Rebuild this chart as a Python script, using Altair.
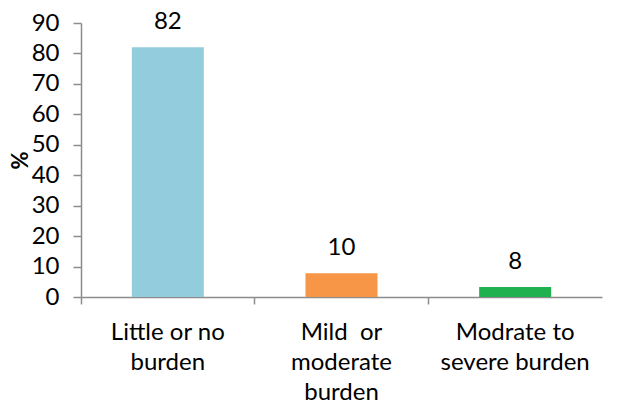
import altair as alt
import pandas as pd

categories = ["Little or no|burden", "Mild  or|moderate|burden", "Modrate to|severe burden"]
values = [82, 7.8, 3.3]
labels = ["82", "10", "8"]
colors = ["#93CDDD", "#F79646", "#1FB04F"]

df = pd.DataFrame({"cat": categories, "val": values, "lab": labels, "col": colors})

FONT = "Lato"

x_enc = alt.X(
    "cat:N",
    sort=categories,
    scale=alt.Scale(paddingInner=0, paddingOuter=0),
    axis=alt.Axis(
        title=None,
        labelAngle=0,
        labelExpr="split(replace(datum.label, '  ', '\u00a0 '), '|')",
        labelFont=FONT,
        labelFontSize=24,
        labelColor="#000000",
        labelLineHeight=30,
        labelBaseline="top",
        labelPadding=16,
        labelOverlap=False,
        ticks=True,
        tickSize=7,
        tickWidth=1.5,
        bandPosition=0,
        domainColor="#8C8C8C",
        domainWidth=1.5,
        tickColor="#8C8C8C",
        labelFlush=False,
        grid=False,
    ),
)

y_enc = alt.Y(
    "val:Q",
    scale=alt.Scale(domain=[0, 90], nice=False),
    axis=alt.Axis(
        title="%",
        values=list(range(0, 91, 10)),
        grid=False,
        labelFont=FONT,
        labelFontSize=24,
        labelColor="#000000",
        labelPadding=14,
        labelOverlap=False,
        ticks=True,
        tickSize=8,
        tickWidth=1.5,
        domainColor="#8C8C8C",
        domainWidth=1.5,
        tickColor="#8C8C8C",
        titleFont=FONT,
        titleFontSize=22,
        titleFontWeight="bold",
        titleColor="#000000",
        titleX=-61,
        titleY=137,
        titleAlign="center",
        titleBaseline="middle",
        labelFlush=False,
    ),
)

bars = alt.Chart(df).mark_bar(width=72).encode(
    x=x_enc,
    y=y_enc,
    color=alt.Color("col:N", scale=None),
)

text = alt.Chart(df).mark_text(
    dy=-25, font=FONT, fontSize=24, color="#000000", baseline="middle"
).encode(
    x=x_enc,
    y=y_enc,
    text="lab:N",
)

chart = (
    alt.layer(bars, text)
    .properties(
        width=521,
        height=274,
        background="#ffffff",
        autosize=alt.AutoSizeParams(type="none"),
        padding={"left": 73, "top": 15, "right": 10, "bottom": 105},
    )
    .configure_view(strokeWidth=0, stroke="transparent")
)

chart.save("out.html", embed_options={"renderer": "svg", "actions": False})
